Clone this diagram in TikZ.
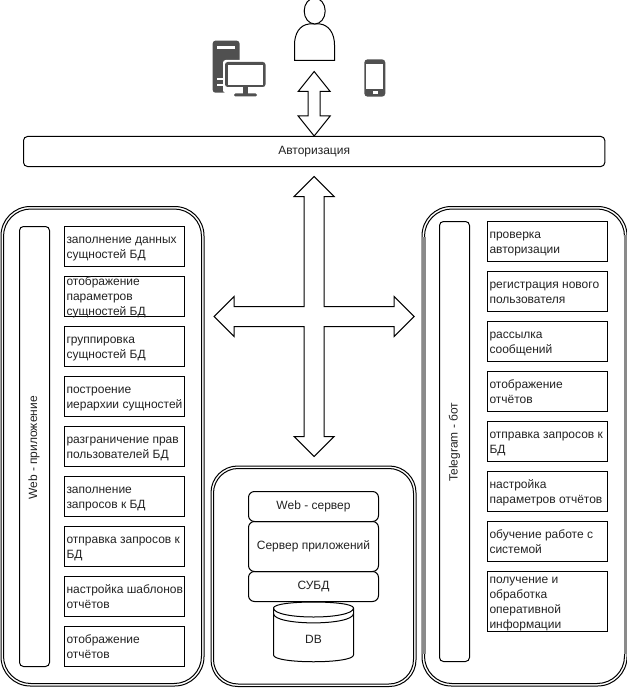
\documentclass[tikz,border=0pt]{standalone}
\usepackage{fontspec}
\setmainfont{Liberation Sans}
\usetikzlibrary{calc,shapes.geometric}
\definecolor{txt}{HTML}{222222}
\definecolor{icon}{HTML}{505050}
\definecolor{stripe}{HTML}{8A8A8A}
\newcommand\itm[1]{\raisebox{-2.3pt}[0pt][0pt]{\makebox[87pt][l]{\parbox[c]{120pt}{\raggedright\rule{0pt}{8pt}#1\rule[-2pt]{0pt}{2pt}}}}}
\tikzset{
  x=0.75pt,y=-0.75pt,
  every node/.style={font=\fontsize{9}{11.25}\selectfont,text=txt},
  outerA/.style={draw,line width=0.75pt,rounded corners=22pt},
  outerB/.style={draw,line width=0.75pt,rounded corners=20.5pt},
  outerC/.style={draw,line width=0.75pt,rounded corners=20pt},
  outerD/.style={draw,line width=0.75pt,rounded corners=18.5pt},
  bar/.style={draw,line width=0.75pt,rounded corners=3pt,anchor=north west,minimum width=22.5pt,inner sep=0pt},
  item/.style={draw,line width=0.75pt,anchor=north west,minimum width=90pt,minimum height=30pt,inner xsep=1.5pt,inner ysep=0pt},
  srv/.style={draw,line width=0.75pt,rounded corners=4.5pt,anchor=north west,minimum width=97.5pt,inner sep=0pt,align=center},
  block/.style={draw,line width=0.75pt,fill=white,line join=miter},
}
\begin{document}
\begin{tikzpicture}
\useasboundingbox (0,0) rectangle (627,688);
% containers
\draw[outerA] (1,206.5) rectangle (204,686);
\draw[outerB] (3.5,209) rectangle (201.5,683.5);
\draw[outerC] (211,466) rectangle (416,686.5);
\draw[outerD] (213.5,468.5) rectangle (413.5,684);
\draw[outerA] (422,206.5) rectangle (627,686);
\draw[outerB] (424.5,209) rectangle (624.5,683.5);
\fill[stripe] (421.5,237) rectangle (425.5,654);
\fill[stripe] (623.5,235) rectangle (627,654);
% top
\node[draw,line width=0.75pt,rounded corners=3pt,anchor=north west,minimum width=436pt,minimum height=22.5pt,inner sep=0pt] (auth) at (23,136) {Авторизация};
% left
\node[bar,minimum height=330pt] (webbar) at (19,226) {};
\node[rotate=90] (webtxt) at (34,448) {Web - приложение};
\node[item] (l1) at (64,226) {\itm{заполнение данных\\сущностей БД}};
\node[item] (l2) at (64,276) {\itm{отображение\\параметров\\сущностей БД}};
\node[item] (l3) at (64,326) {\itm{группировка\\сущностей БД}};
\node[item] (l4) at (64,376) {\itm{построение\\иерархии сущностей}};
\node[item] (l5) at (64,426) {\itm{разграничение прав\\пользователей БД}};
\node[item] (l6) at (64,476) {\itm{заполнение\\запросов к БД}};
\node[item] (l7) at (64,526) {\itm{отправка запросов к\\БД}};
\node[item] (l8) at (64,576) {\itm{настройка шаблонов\\отчётов}};
\node[item] (l9) at (64,626) {\itm{отображение\\отчётов}};
% right
\node[bar,minimum height=330pt] (tgbar) at (439,221) {};
\node[rotate=90] (tgtxt) at (454.5,442) {Telegram - бот};
\node[item] (r1) at (487,221) {\itm{проверка\\авторизации}};
\node[item] (r2) at (487,271) {\itm{регистрация нового\\пользователя}};
\node[item] (r3) at (487,321) {\itm{рассылка\\сообщений}};
\node[item] (r4) at (487,371) {\itm{отображение\\отчётов}};
\node[item] (r5) at (487,421) {\itm{отправка запросов к\\БД}};
\node[item] (r6) at (487,471) {\itm{настройка\\параметров отчётов}};
\node[item] (r7) at (487,521) {\itm{обучение работе с\\системой}};
\node[item,minimum height=45pt] (r8) at (487,571) {\itm{получение и\\обработка\\оперативной\\информации}};
% centre
\node[srv,minimum height=22.5pt] (web) at (248,491) {Web - сервер};
\node[srv,minimum height=37.5pt] (app) at (248,521) {Сервер приложений};
\node[srv,minimum height=22.5pt] (dbms) at (248,571) {СУБД};
% cylinder
\draw[line width=0.75pt] (273.5,608) .. controls (273.5,600) and (353.5,600) .. (353.5,608)
  -- (353.5,655) .. controls (353.5,664) and (273.5,664) .. (273.5,655) -- cycle;
\draw[line width=0.75pt] (273.5,608) .. controls (273.5,620) and (353.5,620) .. (353.5,608);
\draw[line width=0.75pt] (273.5,613.5) .. controls (273.5,626) and (353.5,626) .. (353.5,613.5);
\node (db) at (313.5,639.5) {DB};
% user
\draw[line width=0.75pt] (294.5,60.5) -- (294.5,45) .. controls (294.5,33) and (300,25) .. (309,24)
  -- (320,24) .. controls (328.5,25) and (334.5,33) .. (334.5,45) -- (334.5,60.5) -- cycle;
\draw[line width=0.75pt,fill=white] (314.7,11) ellipse[x radius=10.5,y radius=13];
% computer icon
\fill[icon,rounded corners=2pt] (212.7,40.7) rectangle (239.5,92.7);
\fill[white] (217,46.5) rectangle (235,49);
\fill[white] (217,78) rectangle (224,80);
\fill[white] (217,84) rectangle (224,86);
\fill[white,rounded corners=2pt] (223,60) rectangle (268,93);
\fill[icon,rounded corners=2pt] (225,62) rectangle (265.5,87);
\fill[white] (228,64.7) rectangle (263,85);
\fill[icon] (243,87) rectangle (248,94);
\fill[icon,rounded corners=1pt] (234,93.5) rectangle (257,96.5);
% phone icon
\fill[icon,rounded corners=2.5pt] (364.3,59.3) rectangle (385.3,96.7);
\fill[white] (366.3,64) rectangle (383.3,89.3);
\fill[white] (372.7,91.3) rectangle (377.5,93.7);
% arrows
\coordinate (vt) at ($(auth.north)+(0,-64.5)$);
\draw[block] (auth.north) -- ++(-16,-20) -- ++(10,0) -- ++(0,-24.5) -- ++(-10,0) -- (vt)
  -- ++(16,20) -- ++(-10,0) -- ++(0,24.5) -- ++(10,0) -- cycle;
\coordinate (ctop) at ($(auth.south)+(0,9.5)$);
\draw[block] (ctop) -- ++(20,20) -- ++(-10,0) -- ++(0,110) -- ++(70,0) -- ++(0,-10) -- ++(20,20)
  -- ++(-20,20) -- ++(0,-10) -- ++(-70,0) -- ++(0,110) -- ++(10,0) -- ++(-20,20) -- ++(-20,-20) -- ++(10,0)
  -- ++(0,-110) -- ++(-70,0) -- ++(0,10) -- ++(-20,-20) -- ++(20,-20) -- ++(0,10) -- ++(70,0) -- ++(0,-110) -- ++(-10,0) -- cycle;
\end{tikzpicture}
\end{document}
